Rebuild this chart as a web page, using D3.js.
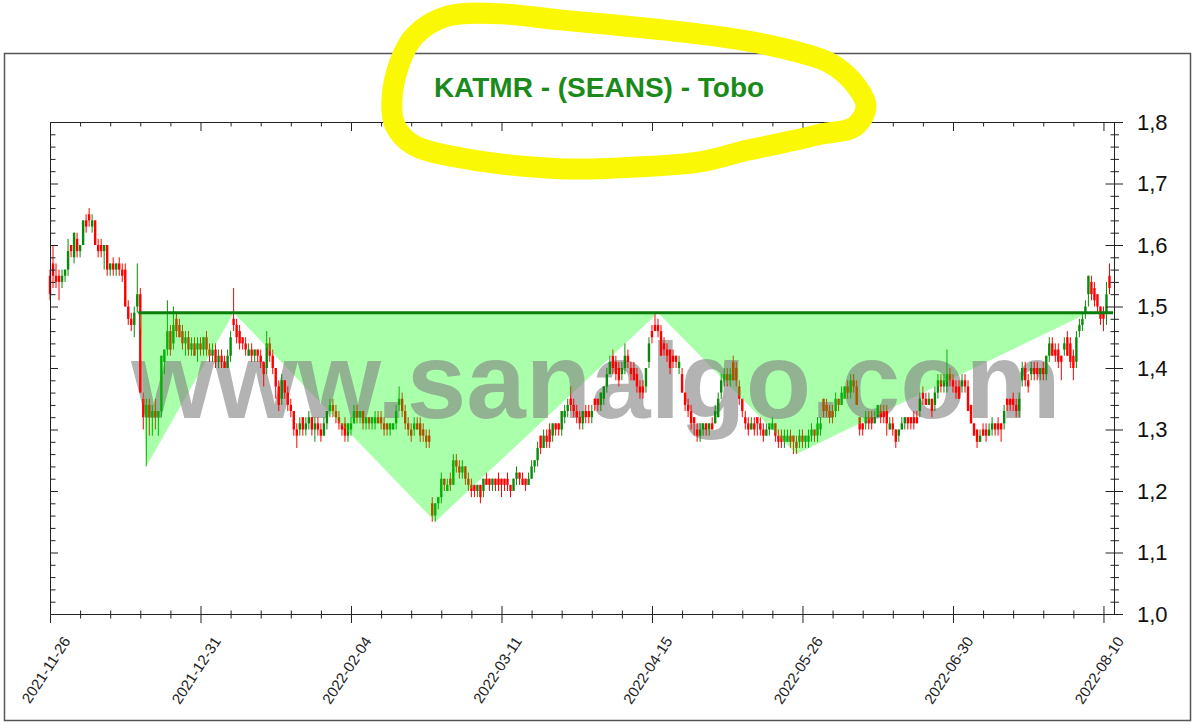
<!DOCTYPE html>
<html><head><meta charset="utf-8">
<script src="https://cdn.jsdelivr.net/npm/d3@7"></script>
<style>body{margin:0;background:#fff}svg{display:block}</style>
</head><body><svg id="c" width="1200" height="725"></svg>
<script>
// ---------------- data ----------------
const tickDates = ["2021-11-26","2021-12-31","2022-02-04","2022-03-11","2022-04-15","2022-05-26","2022-06-30","2022-08-10"];
const tickBars = [0,50,100,150,200,250,300,350];
const yLabels = [1.0,1.1,1.2,1.3,1.4,1.5,1.6,1.7,1.8];

const open = [1.55,1.57,1.55,1.55,1.54,1.55,1.56,1.60,1.58,1.61,
1.59,1.60,1.64,1.65,1.63,1.64,1.60,1.60,1.59,1.60,
1.56,1.57,1.56,1.57,1.56,1.56,1.50,1.48,1.47,1.50,
1.52,1.35,1.32,1.34,1.32,1.33,1.32,1.33,1.41,1.43,
1.46,1.44,1.48,1.47,1.46,1.44,1.45,1.43,1.44,1.43,
1.44,1.43,1.45,1.43,1.42,1.43,1.41,1.42,1.41,1.40,
1.42,1.48,1.47,1.46,1.45,1.44,1.42,1.43,1.42,1.43,
1.42,1.41,1.40,1.44,1.42,1.40,1.37,1.35,1.38,1.36,
1.34,1.33,1.30,1.30,1.32,1.30,1.31,1.32,1.30,1.31,
1.30,1.29,1.31,1.33,1.34,1.33,1.32,1.31,1.31,1.29,
1.30,1.31,1.33,1.32,1.33,1.31,1.32,1.31,1.31,1.32,
1.32,1.31,1.31,1.30,1.30,1.31,1.34,1.35,1.33,1.31,
1.30,1.30,1.31,1.31,1.30,1.29,1.29,1.18,1.16,1.18,
1.19,1.22,1.20,1.22,1.21,1.25,1.24,1.23,1.24,1.22,
1.21,1.21,1.20,1.21,1.20,1.22,1.22,1.21,1.22,1.22,
1.22,1.22,1.22,1.21,1.20,1.22,1.23,1.22,1.22,1.21,
1.22,1.24,1.25,1.29,1.27,1.29,1.30,1.29,1.31,1.31,
1.30,1.32,1.33,1.35,1.34,1.33,1.32,1.31,1.33,1.33,
1.32,1.35,1.35,1.34,1.35,1.37,1.39,1.42,1.41,1.40,
1.39,1.40,1.42,1.40,1.40,1.39,1.37,1.37,1.37,1.41,
1.46,1.47,1.47,1.46,1.44,1.43,1.43,1.42,1.42,1.40,
1.39,1.36,1.34,1.33,1.32,1.30,1.29,1.30,1.31,1.30,
1.31,1.31,1.32,1.36,1.38,1.39,1.38,1.41,1.40,1.37,
1.35,1.32,1.31,1.30,1.31,1.32,1.31,1.30,1.29,1.30,
1.30,1.31,1.29,1.29,1.28,1.28,1.29,1.29,1.28,1.28,
1.29,1.28,1.28,1.29,1.30,1.29,1.30,1.35,1.34,1.33,
1.33,1.33,1.35,1.34,1.35,1.37,1.36,1.38,1.37,1.32,
1.31,1.31,1.32,1.32,1.31,1.32,1.33,1.33,1.33,1.30,
1.31,1.30,1.29,1.30,1.31,1.32,1.32,1.32,1.32,1.33,
1.36,1.35,1.34,1.35,1.34,1.36,1.38,1.37,1.37,1.39,
1.38,1.37,1.37,1.37,1.38,1.37,1.34,1.31,1.30,1.28,
1.30,1.30,1.29,1.30,1.31,1.31,1.31,1.31,1.35,1.35,
1.35,1.34,1.33,1.38,1.40,1.38,1.39,1.40,1.40,1.39,
1.40,1.39,1.42,1.44,1.43,1.43,1.42,1.43,1.45,1.44,
1.42,1.41,1.46,1.47,1.49,1.52,1.54,1.53,1.52,1.50,
1.49,1.49,1.55];

const high = [1.56,1.60,1.57,1.56,1.56,1.56,1.61,1.60,1.62,1.62,
1.60,1.64,1.65,1.66,1.65,1.64,1.61,1.61,1.60,1.60,
1.57,1.58,1.57,1.58,1.57,1.57,1.51,1.49,1.50,1.57,
1.53,1.36,1.35,1.35,1.34,1.35,1.33,1.42,1.43,1.51,
1.47,1.50,1.49,1.48,1.47,1.46,1.46,1.45,1.45,1.45,
1.45,1.45,1.46,1.44,1.44,1.44,1.43,1.43,1.42,1.43,
1.46,1.53,1.48,1.47,1.45,1.45,1.44,1.44,1.43,1.43,
1.43,1.41,1.46,1.45,1.43,1.40,1.38,1.39,1.38,1.37,
1.35,1.33,1.31,1.32,1.32,1.32,1.33,1.32,1.32,1.32,
1.31,1.32,1.33,1.35,1.35,1.34,1.33,1.31,1.32,1.31,
1.32,1.34,1.34,1.33,1.33,1.32,1.32,1.32,1.33,1.33,
1.33,1.32,1.31,1.31,1.31,1.34,1.37,1.36,1.34,1.32,
1.31,1.32,1.32,1.32,1.31,1.30,1.30,1.19,1.18,1.19,
1.23,1.22,1.22,1.23,1.26,1.26,1.25,1.25,1.24,1.23,
1.22,1.21,1.21,1.21,1.22,1.23,1.22,1.22,1.22,1.23,
1.22,1.22,1.23,1.21,1.22,1.24,1.23,1.23,1.22,1.23,
1.25,1.25,1.28,1.29,1.30,1.30,1.31,1.31,1.31,1.31,
1.33,1.34,1.35,1.37,1.35,1.34,1.33,1.33,1.34,1.34,
1.34,1.35,1.35,1.36,1.37,1.40,1.42,1.43,1.42,1.41,
1.41,1.44,1.43,1.41,1.41,1.40,1.38,1.38,1.40,1.45,
1.47,1.49,1.48,1.47,1.45,1.44,1.43,1.43,1.42,1.42,
1.40,1.36,1.35,1.34,1.32,1.31,1.31,1.31,1.31,1.31,
1.32,1.34,1.36,1.39,1.40,1.40,1.40,1.42,1.41,1.38,
1.35,1.33,1.32,1.32,1.32,1.32,1.32,1.31,1.31,1.31,
1.32,1.31,1.30,1.30,1.30,1.30,1.30,1.29,1.29,1.30,
1.30,1.29,1.30,1.31,1.30,1.32,1.32,1.35,1.35,1.34,
1.34,1.36,1.35,1.37,1.37,1.38,1.39,1.39,1.38,1.32,
1.31,1.33,1.33,1.33,1.33,1.34,1.34,1.34,1.34,1.32,
1.32,1.30,1.30,1.32,1.32,1.32,1.32,1.33,1.33,1.36,
1.37,1.36,1.36,1.35,1.37,1.39,1.39,1.39,1.43,1.40,
1.39,1.38,1.38,1.39,1.39,1.38,1.34,1.31,1.30,1.30,
1.31,1.31,1.31,1.32,1.31,1.32,1.31,1.34,1.35,1.35,
1.36,1.35,1.36,1.41,1.41,1.39,1.41,1.41,1.41,1.40,
1.41,1.42,1.45,1.45,1.44,1.44,1.42,1.45,1.46,1.45,
1.43,1.46,1.48,1.49,1.51,1.55,1.55,1.54,1.52,1.50,
1.50,1.54,1.57];

const low = [1.51,1.53,1.53,1.51,1.53,1.54,1.55,1.58,1.57,1.58,
1.58,1.60,1.62,1.63,1.62,1.60,1.58,1.58,1.56,1.55,
1.55,1.55,1.55,1.55,1.54,1.50,1.47,1.46,1.45,1.49,
1.36,1.30,1.24,1.29,1.29,1.30,1.29,1.32,1.39,1.42,
1.42,1.43,1.45,1.45,1.43,1.42,1.42,1.42,1.42,1.41,
1.42,1.42,1.42,1.41,1.41,1.40,1.40,1.40,1.40,1.40,
1.41,1.46,1.44,1.43,1.43,1.42,1.42,1.41,1.41,1.41,
1.40,1.37,1.39,1.41,1.39,1.35,1.33,1.34,1.35,1.33,
1.32,1.29,1.27,1.29,1.29,1.29,1.30,1.29,1.28,1.29,
1.28,1.29,1.30,1.32,1.32,1.31,1.30,1.29,1.28,1.28,
1.29,1.31,1.31,1.31,1.30,1.30,1.30,1.30,1.30,1.31,
1.30,1.29,1.29,1.29,1.30,1.30,1.33,1.32,1.30,1.29,
1.28,1.29,1.30,1.28,1.28,1.27,1.27,1.15,1.15,1.17,
1.18,1.20,1.20,1.20,1.21,1.23,1.22,1.22,1.21,1.20,
1.19,1.19,1.19,1.18,1.19,1.21,1.20,1.20,1.20,1.20,
1.19,1.20,1.20,1.19,1.20,1.21,1.21,1.21,1.20,1.21,
1.22,1.23,1.24,1.26,1.27,1.27,1.27,1.28,1.29,1.29,
1.29,1.31,1.32,1.33,1.32,1.31,1.30,1.30,1.31,1.31,
1.31,1.33,1.33,1.33,1.34,1.36,1.39,1.39,1.38,1.37,
1.38,1.39,1.40,1.38,1.38,1.36,1.35,1.35,1.36,1.40,
1.44,1.46,1.45,1.42,1.42,1.41,1.39,1.40,1.40,1.39,
1.36,1.33,1.32,1.30,1.29,1.28,1.28,1.29,1.29,1.29,
1.30,1.31,1.32,1.35,1.37,1.37,1.37,1.38,1.37,1.34,
1.32,1.30,1.29,1.30,1.29,1.29,1.29,1.28,1.29,1.29,
1.30,1.28,1.27,1.27,1.27,1.28,1.27,1.26,1.26,1.27,
1.27,1.27,1.27,1.28,1.28,1.28,1.29,1.32,1.32,1.31,
1.31,1.32,1.33,1.34,1.35,1.35,1.35,1.36,1.34,1.29,
1.29,1.30,1.30,1.30,1.31,1.32,1.31,1.31,1.29,1.30,
1.29,1.27,1.28,1.30,1.30,1.30,1.30,1.30,1.31,1.32,
1.34,1.34,1.34,1.32,1.33,1.35,1.36,1.36,1.36,1.37,
1.36,1.35,1.35,1.36,1.36,1.33,1.31,1.29,1.27,1.28,
1.29,1.28,1.29,1.29,1.29,1.29,1.28,1.30,1.33,1.33,
1.33,1.32,1.32,1.37,1.37,1.36,1.38,1.38,1.38,1.38,
1.38,1.38,1.41,1.42,1.41,1.40,1.38,1.42,1.42,1.40,
1.38,1.40,1.45,1.46,1.48,1.50,1.51,1.50,1.49,1.47,
1.46,1.47,1.52];

const close = [1.52,1.55,1.54,1.54,1.55,1.56,1.59,1.59,1.62,1.59,
1.60,1.64,1.63,1.64,1.64,1.60,1.59,1.59,1.60,1.56,
1.57,1.56,1.57,1.56,1.55,1.50,1.48,1.47,1.49,1.52,
1.36,1.32,1.34,1.32,1.33,1.32,1.33,1.42,1.43,1.46,
1.43,1.47,1.46,1.45,1.44,1.45,1.43,1.44,1.42,1.44,
1.43,1.45,1.43,1.42,1.43,1.41,1.42,1.41,1.40,1.42,
1.45,1.47,1.45,1.44,1.44,1.43,1.43,1.42,1.43,1.42,
1.41,1.39,1.44,1.42,1.40,1.37,1.34,1.38,1.36,1.34,
1.33,1.30,1.29,1.31,1.30,1.31,1.32,1.30,1.31,1.30,
1.29,1.31,1.33,1.34,1.33,1.32,1.31,1.30,1.29,1.31,
1.31,1.33,1.32,1.33,1.31,1.32,1.31,1.32,1.32,1.31,
1.31,1.30,1.30,1.31,1.31,1.33,1.35,1.33,1.31,1.30,
1.29,1.31,1.30,1.29,1.29,1.28,1.28,1.16,1.18,1.19,
1.22,1.21,1.21,1.21,1.25,1.24,1.23,1.24,1.22,1.21,
1.20,1.20,1.21,1.19,1.22,1.21,1.21,1.22,1.21,1.21,
1.21,1.21,1.21,1.20,1.22,1.23,1.22,1.21,1.21,1.22,
1.24,1.25,1.27,1.27,1.29,1.28,1.28,1.31,1.30,1.30,
1.33,1.33,1.34,1.34,1.33,1.32,1.31,1.33,1.32,1.32,
1.33,1.34,1.34,1.36,1.37,1.39,1.41,1.40,1.39,1.38,
1.40,1.42,1.41,1.39,1.38,1.37,1.36,1.36,1.40,1.44,
1.45,1.46,1.46,1.42,1.43,1.42,1.40,1.41,1.41,1.41,
1.36,1.34,1.33,1.31,1.31,1.29,1.30,1.31,1.30,1.31,
1.30,1.33,1.35,1.38,1.39,1.38,1.39,1.38,1.38,1.35,
1.33,1.31,1.30,1.31,1.30,1.31,1.30,1.29,1.30,1.31,
1.31,1.29,1.28,1.28,1.29,1.29,1.28,1.28,1.27,1.29,
1.28,1.29,1.29,1.30,1.29,1.31,1.31,1.33,1.33,1.32,
1.32,1.35,1.34,1.36,1.37,1.36,1.38,1.37,1.34,1.30,
1.30,1.32,1.31,1.31,1.32,1.34,1.32,1.32,1.31,1.31,
1.30,1.28,1.30,1.31,1.32,1.31,1.31,1.31,1.31,1.35,
1.35,1.34,1.35,1.33,1.36,1.38,1.37,1.38,1.39,1.38,
1.37,1.36,1.35,1.38,1.37,1.33,1.31,1.29,1.28,1.29,
1.29,1.29,1.30,1.31,1.30,1.30,1.30,1.33,1.34,1.34,
1.34,1.33,1.35,1.40,1.38,1.37,1.40,1.39,1.39,1.40,
1.39,1.42,1.44,1.42,1.42,1.41,1.41,1.44,1.42,1.41,
1.40,1.45,1.47,1.48,1.50,1.55,1.52,1.51,1.50,1.48,
1.48,1.52,1.53];

// inverse head & shoulders (TOBO) pattern
const necklinePrice = 1.49;
const necklineBars = [29.3, 353.2];
const patternBars = [30, 32, 61, 128, 202, 248, 345];
const patternPrices = [1.49, 1.24, 1.49, 1.15, 1.49, 1.26, 1.49];

// hand-drawn highlight around the title (in chart units)
const scribbleBars = [113.6,116.3,121.3,131.9,149.5,169.4,187.0,215.9,231.6,248.2,259.1,266.8,271.1,267.4,255.8,248.2,231.6,215.9,187.0,169.4,137.2,120.6,114.6];
const scribblePrices = [1.836,1.898,1.941,1.972,1.976,1.966,1.958,1.943,1.932,1.914,1.896,1.865,1.826,1.793,1.780,1.771,1.754,1.735,1.725,1.724,1.741,1.763,1.795];

const titleText = "KATMR - (SEANS) - Tobo";
const watermarkText = "www.sanalgo.com";

// ---------------- drawing ----------------
const svg = d3.select("#c");
const FONT = "'Liberation Sans', Arial, sans-serif";
const x = d3.scaleLinear().domain([0, 353.5]).range([50, 1114]);
const y = d3.scaleLinear().domain([1.0, 1.8]).range([614, 122]);

svg.append("rect").attr("width",1200).attr("height",725).attr("fill","#fff");
svg.append("rect").attr("x",4.5).attr("y",53.5).attr("width",1186).attr("height",667)
  .attr("fill","none").attr("stroke","#555").attr("stroke-width",1.5);

// pattern polygon
const pts = patternBars.map((b,k)=>[x(b), y(patternPrices[k])]);
const polyD = d3.line()(pts)+"Z";
const defs = svg.append("defs");
defs.append("clipPath").attr("id","inFill").append("path").attr("d",polyD);
const mask = defs.append("mask").attr("id","outFill");
mask.append("rect").attr("width",1200).attr("height",725).attr("fill","#fff");
mask.append("path").attr("d",polyD).attr("fill","#000");

svg.append("path").attr("d",polyD).attr("fill","#aaffaa").attr("stroke","none");

// watermark
svg.append("text").attr("x",596).attr("y",418).attr("text-anchor","middle")
  .attr("font-family",FONT).attr("font-weight","bold").attr("font-size",107)
  .attr("fill","#808080").attr("fill-opacity",0.6).text(watermarkText);

// candles
const bars = open.map((o,i)=>({i, o, h:Math.max(high[i],o,close[i]), l:Math.min(low[i],o,close[i]), c:close[i]}));
function drawCandles(g, up, down){
  g.selectAll("line").data(bars).join("line")
    .attr("x1",d=>x(d.i)).attr("x2",d=>x(d.i))
    .attr("y1",d=>y(d.h)).attr("y2",d=>y(d.l))
    .attr("stroke",d=>d.c>d.o?up:down).attr("stroke-width",1);
  g.selectAll("rect").data(bars).join("rect")
    .attr("x",d=>x(d.i)-1.2).attr("width",2.4)
    .attr("y",d=>y(Math.max(d.o,d.c)))
    .attr("height",d=>Math.max(1, y(Math.min(d.o,d.c))-y(Math.max(d.o,d.c))))
    .attr("fill",d=>d.c>d.o?up:down);
}
drawCandles(svg.append("g").attr("mask","url(#outFill)"), "#0a8a0a", "#ff0000");
drawCandles(svg.append("g").attr("clip-path","url(#inFill)"), "#07b007", "#ab5400");

// neckline
svg.append("line").attr("x1",x(necklineBars[0])).attr("x2",x(necklineBars[1]))
  .attr("y1",y(necklinePrice)).attr("y2",y(necklinePrice))
  .attr("stroke","#0a7d0a").attr("stroke-width",3);

// axes
const axisColor = "#222";
const xMinor = d3.range(0, 351, 10);
const yMinor = d3.range(0, 41).map(k => +(1 + k*0.02).toFixed(2));
const isMajorX = d => d % 50 === 0;
const isMajorY = d => Math.abs(d*10 - Math.round(d*10)) < 1e-6;

function tidy(g){
  g.select(".domain").attr("stroke",axisColor).attr("stroke-width",1);
  g.selectAll(".tick line").attr("stroke",axisColor).attr("stroke-width",1);
  g.selectAll(".tick text").remove();
}
const gB = svg.append("g").attr("transform","translate(0,614)")
  .call(d3.axisBottom(x).tickValues(xMinor).tickSizeOuter(0)).call(tidy);
gB.selectAll(".tick line").attr("y1",d=>isMajorX(d)?-8:-3.5).attr("y2",d=>isMajorX(d)?9:4.5);

const gT = svg.append("g").attr("transform","translate(0,122)")
  .call(d3.axisTop(x).tickValues(xMinor).tickSizeOuter(0)).call(tidy);
gT.selectAll(".tick line").attr("y1",0).attr("y2",d=>isMajorX(d)?9:4.5);

const gR = svg.append("g").attr("transform","translate(1114,0)")
  .call(d3.axisRight(y).tickValues(yMinor).tickSizeOuter(0)).call(tidy);
gR.selectAll(".tick line").attr("x1",d=>isMajorY(d)?-8.5:-3.5).attr("x2",d=>isMajorY(d)?9:5);

const gL = svg.append("g").attr("transform","translate(50,0)")
  .call(d3.axisLeft(y).tickValues(yMinor).tickSizeOuter(0)).call(tidy);
gL.selectAll(".tick line").attr("x1",0).attr("x2",d=>isMajorY(d)?8:5.5);

// y labels
const loc = d3.formatLocale({decimal:",", thousands:".", grouping:[3], currency:["",""]});
const fmt = loc.format(".1f");
svg.append("g").selectAll("text").data(yLabels).join("text")
  .attr("x",1137).attr("y",d=>y(d)).attr("dy","0.36em")
  .attr("font-family",FONT).attr("font-size",22).attr("fill","#111")
  .text(d=>fmt(d));

// x labels
svg.append("g").selectAll("text").data(tickBars).join("text")
  .attr("transform",b=>`translate(${x(b)+21},641) rotate(-57)`)
  .attr("text-anchor","end")
  .attr("font-family",FONT).attr("font-size",15).attr("fill","#222")
  .text((b,k)=>tickDates[k]);

// title
svg.append("text").attr("x",599).attr("y",97).attr("text-anchor","middle")
  .attr("font-family",FONT).attr("font-weight","bold").attr("font-size",28)
  .attr("fill","#1a8a1a").text(titleText);

// yellow highlight scribble
const spts = scribbleBars.map((b,k)=>[x(b), y(scribblePrices[k])]);
svg.append("path").attr("d", d3.line().curve(d3.curveCatmullRomClosed)(spts))
  .attr("fill","none").attr("stroke","#fbf806").attr("stroke-width",21)
  .attr("stroke-linejoin","round");
</script>
</body></html>
